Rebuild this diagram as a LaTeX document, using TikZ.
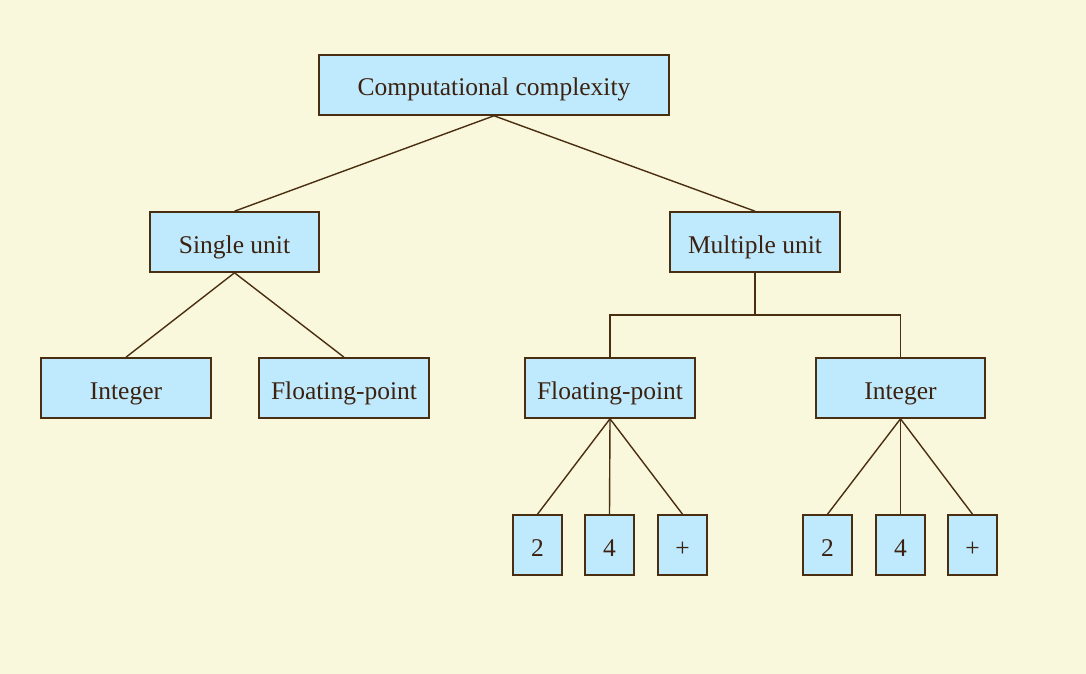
\documentclass[tikz,border=0pt]{standalone}
\usepackage{fontspec}
\setmainfont{Liberation Serif}
\definecolor{bg}{HTML}{FAF8DC}
\definecolor{boxfill}{HTML}{BFE9FD}
\definecolor{edge}{HTML}{4A2E12}
\definecolor{txt}{HTML}{3B2210}
\begin{document}
\begin{tikzpicture}[x=1pt,y=-1pt,
  box/.style={draw=edge,fill=boxfill,line width=1.6pt,text=txt,font=\fontsize{25.5}{28}\selectfont,inner sep=0pt,text height=22pt,text depth=0pt,minimum width=170pt,minimum height=60pt},
  small/.style={box,minimum width=49pt},
  link/.style={draw=edge,line width=1.4pt}]
\fill[bg] (0,0) rectangle (1086,674);
\useasboundingbox (0,0) rectangle (1086,674);
\node[box,minimum width=350pt] (root) at (494,85) {Computational complexity};
\node[box,minimum width=169pt] (single) at (234.5,242) {Single unit};
\node[box] (multi) at (755,242) {Multiple unit};
\node[box] (lint) at (126,388) {Integer};
\node[box] (lfp) at (344,388) {Floating-point};
\node[box] (rfp) at (610,388) {Floating-point};
\node[box,minimum width=169pt] (rint) at (900.5,388) {Integer};
\node[small] (a2) at (537.5,545) {2};
\node[small] (a4) at (609.5,545) {4};
\node[small] (ap) at (682.5,545) {+};
\node[small] (b2) at (827.5,545) {2};
\node[small] (b4) at (900.5,545) {4};
\node[small] (bp) at (972.5,545) {+};
\coordinate (mj) at (755,315);
\draw[link] (root.south) -- (single.north);
\draw[link] (root.south) -- (multi.north);
\draw[link] (single.south) -- (lint.north);
\draw[link] (single.south) -- (lfp.north);
\draw[link] (multi.south) -- (mj);
\draw[link] (rfp.north) |- (mj) -| (rint.north);
\draw[link] (rfp.south) -- (a2.north);
\draw[link] (rfp.south) -- (a4.north);
\draw[link] (rfp.south) -- (ap.north);
\draw[link] (rint.south) -- (b2.north);
\draw[link] (rint.south) -- (b4.north);
\draw[link] (rint.south) -- (bp.north);
\end{tikzpicture}
\end{document}
